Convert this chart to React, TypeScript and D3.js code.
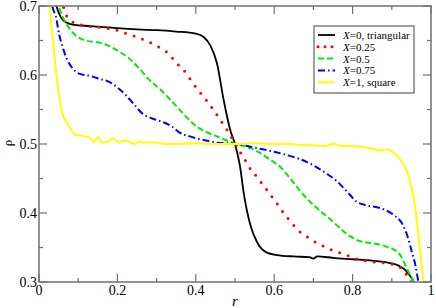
import React from "react";
import * as d3 from "d3";

const W = 436;
const H = 308;

const xTickLabels = ["0", "0.2", "0.4", "0.6", "0.8", "1"];
const yTickLabels = ["0.3", "0.4", "0.5", "0.6", "0.7"];

const seriesNames = ["X=0, triangular", "X=0.25", "X=0.5", "X=0.75", "X=1, square"];

const rBlack = [0.040, 0.045, 0.052, 0.060, 0.070, 0.085, 0.10, 0.13, 0.15, 0.18, 0.20, 0.25, 0.30, 0.35, 0.40, 0.42, 0.437, 0.454, 0.471, 0.488, 0.50, 0.513, 0.522, 0.539, 0.556, 0.58, 0.607, 0.65, 0.69, 0.70, 0.71, 0.75, 0.80, 0.85, 0.90, 0.92, 0.935, 0.945, 0.956, 0.962];
const rhoBlack = [0.72, 0.70, 0.688, 0.680, 0.676, 0.673, 0.672, 0.671, 0.670, 0.669, 0.668, 0.666, 0.665, 0.663, 0.660, 0.655, 0.643, 0.617, 0.564, 0.520, 0.500, 0.467, 0.430, 0.383, 0.358, 0.343, 0.339, 0.337, 0.336, 0.334, 0.337, 0.335, 0.333, 0.331, 0.327, 0.323, 0.317, 0.310, 0.300, 0.29];

const rRed = [0.055, 0.062, 0.070, 0.088, 0.111, 0.134, 0.157, 0.181, 0.204, 0.227, 0.250, 0.272, 0.294, 0.316, 0.334, 0.349, 0.366, 0.381, 0.394, 0.409, 0.425, 0.438, 0.453, 0.466, 0.479, 0.492, 0.505, 0.516, 0.529, 0.541, 0.557, 0.571, 0.586, 0.600, 0.614, 0.628, 0.643, 0.659, 0.678, 0.698, 0.718, 0.740, 0.763, 0.785, 0.807, 0.832, 0.855, 0.879, 0.900, 0.922, 0.934, 0.943, 0.950, 0.956];
const rhoRed = [0.71, 0.699, 0.686, 0.676, 0.672, 0.670, 0.669, 0.667, 0.664, 0.659, 0.655, 0.650, 0.644, 0.637, 0.629, 0.618, 0.609, 0.598, 0.587, 0.576, 0.565, 0.555, 0.543, 0.532, 0.521, 0.509, 0.497, 0.485, 0.474, 0.462, 0.452, 0.441, 0.430, 0.419, 0.408, 0.397, 0.387, 0.376, 0.368, 0.360, 0.354, 0.348, 0.343, 0.339, 0.334, 0.331, 0.329, 0.328, 0.326, 0.321, 0.313, 0.306, 0.299, 0.29];

const rGreen = [0.047, 0.051, 0.064, 0.077, 0.094, 0.119, 0.153, 0.179, 0.204, 0.230, 0.255, 0.281, 0.306, 0.332, 0.360, 0.381, 0.403, 0.428, 0.454, 0.479, 0.505, 0.539, 0.564, 0.590, 0.615, 0.641, 0.666, 0.692, 0.717, 0.743, 0.764, 0.794, 0.820, 0.853, 0.888, 0.913, 0.925, 0.934, 0.947, 0.956, 0.960];
const rhoGreen = [0.71, 0.70, 0.680, 0.668, 0.657, 0.650, 0.647, 0.642, 0.634, 0.624, 0.610, 0.593, 0.581, 0.566, 0.549, 0.536, 0.525, 0.517, 0.511, 0.505, 0.500, 0.494, 0.487, 0.477, 0.467, 0.450, 0.432, 0.416, 0.403, 0.391, 0.380, 0.366, 0.359, 0.356, 0.351, 0.344, 0.336, 0.325, 0.310, 0.300, 0.29];

const rBlue = [0.031, 0.034, 0.043, 0.051, 0.060, 0.072, 0.085, 0.102, 0.128, 0.157, 0.179, 0.200, 0.221, 0.243, 0.264, 0.289, 0.315, 0.340, 0.360, 0.385, 0.419, 0.454, 0.505, 0.556, 0.590, 0.632, 0.666, 0.700, 0.734, 0.760, 0.786, 0.811, 0.837, 0.871, 0.905, 0.926, 0.939, 0.951, 0.960, 0.968, 0.972];
const rhoBlue = [0.72, 0.70, 0.685, 0.660, 0.641, 0.622, 0.610, 0.602, 0.599, 0.594, 0.590, 0.582, 0.571, 0.557, 0.544, 0.537, 0.532, 0.525, 0.516, 0.511, 0.506, 0.502, 0.500, 0.494, 0.490, 0.484, 0.478, 0.469, 0.457, 0.446, 0.431, 0.416, 0.411, 0.407, 0.397, 0.385, 0.368, 0.344, 0.325, 0.300, 0.29];

const rYellow = [0.026, 0.028, 0.033, 0.038, 0.047, 0.060, 0.072, 0.085, 0.094, 0.111, 0.131, 0.140, 0.151, 0.160, 0.177, 0.190, 0.203, 0.216, 0.229, 0.242, 0.255, 0.272, 0.298, 0.324, 0.349, 0.40, 0.45, 0.50, 0.55, 0.60, 0.64, 0.666, 0.709, 0.730, 0.751, 0.770, 0.794, 0.837, 0.871, 0.888, 0.905, 0.922, 0.939, 0.951, 0.960, 0.968, 0.977, 0.981, 0.983];
const rhoYellow = [0.72, 0.70, 0.665, 0.636, 0.588, 0.544, 0.530, 0.518, 0.513, 0.512, 0.508, 0.503, 0.510, 0.502, 0.504, 0.508, 0.502, 0.505, 0.504, 0.500, 0.503, 0.502, 0.502, 0.500, 0.500, 0.501, 0.500, 0.500, 0.501, 0.500, 0.500, 0.499, 0.498, 0.497, 0.500, 0.497, 0.497, 0.495, 0.491, 0.492, 0.487, 0.477, 0.460, 0.436, 0.407, 0.368, 0.320, 0.300, 0.29];

const colors = ["#000000", "#ff0000", "#00ee00", "#0000ff", "#ffff00"];
const dashes = ["none", "0 9", "6 3", "7 3 1.5 3", "none"];
const widths = [1.8, 3, 2, 2, 2];

const seriesR = [rBlack, rRed, rGreen, rBlue, rYellow];
const seriesRho = [rhoBlack, rhoRed, rhoGreen, rhoBlue, rhoYellow];

const FONT = "'Liberation Serif', 'Times New Roman', serif";

export default function App() {
  const left = 39, right = 431, top = 6, bottom = 282;
  const x = d3.scaleLinear().domain([0, 1]).range([left, right]);
  const y = d3.scaleLinear().domain([0.3, 0.7]).range([bottom, top]);
  const line = d3
    .line<[number, number]>()
    .x((d) => x(d[0]))
    .y((d) => y(d[1]))
    .curve(d3.curveMonotoneX);

  const axisColor = "#707070";
  const xMajor = x.ticks(5);
  const xMinor = x.ticks(10).filter((t) => !xMajor.some((m) => Math.abs(m - t) < 1e-9));
  const yMajor = y.ticks(4);
  const yMinor = y.ticks(8).filter((t) => !yMajor.some((m) => Math.abs(m - t) < 1e-9));
  const ts = { fontFamily: FONT };

  const legX = 314, legY = 26, legW = 100, legH = 67;
  const rowY = (i: number) => 35 + i * 11.8;

  return (
    <svg
      width={W}
      height={H}
      style={{ position: "absolute", left: 0, top: 0, background: "#fff" }}
    >
      <defs>
        <clipPath id="plot">
          <rect x={left} y={top} width={right - left} height={bottom - top} />
        </clipPath>
      </defs>
      <rect x={0} y={0} width={W} height={H} fill="#fff" />
      <g clipPath="url(#plot)">
        {seriesR.map((rs, i) => (
          <path
            key={i}
            d={line(rs.map((r, j) => [r, seriesRho[i][j]] as [number, number])) || ""}
            fill="none"
            stroke={colors[i]}
            strokeWidth={widths[i]}
            strokeDasharray={dashes[i]}
            strokeLinecap={i === 1 ? "round" : "butt"}
            strokeLinejoin="round"
          />
        ))}
      </g>
      <rect x={left} y={top} width={right - left} height={bottom - top} fill="none" stroke={axisColor} strokeWidth={1.5} />
      {xMajor.map((t) => (
        <g key={"xM" + t}>
          <line x1={x(t)} x2={x(t)} y1={bottom} y2={bottom - 8} stroke={axisColor} strokeWidth={1.2} />
          <line x1={x(t)} x2={x(t)} y1={top} y2={top + 8} stroke={axisColor} strokeWidth={1.2} />
        </g>
      ))}
      {xMinor.map((t) => (
        <g key={"xm" + t}>
          <line x1={x(t)} x2={x(t)} y1={bottom} y2={bottom - 4} stroke={axisColor} strokeWidth={1.2} />
          <line x1={x(t)} x2={x(t)} y1={top} y2={top + 4} stroke={axisColor} strokeWidth={1.2} />
        </g>
      ))}
      {yMajor.map((t) => (
        <g key={"yM" + t}>
          <line x1={left} x2={left + 8} y1={y(t)} y2={y(t)} stroke={axisColor} strokeWidth={1.2} />
          <line x1={right} x2={right - 8} y1={y(t)} y2={y(t)} stroke={axisColor} strokeWidth={1.2} />
        </g>
      ))}
      {yMinor.map((t) => (
        <g key={"ym" + t}>
          <line x1={left} x2={left + 4} y1={y(t)} y2={y(t)} stroke={axisColor} strokeWidth={1.2} />
          <line x1={right} x2={right - 4} y1={y(t)} y2={y(t)} stroke={axisColor} strokeWidth={1.2} />
        </g>
      ))}
      {xMajor.map((t, i) => (
        <text key={"xl" + t} x={x(t)} y={295} fontSize={14} textAnchor="middle" fill="#000" style={ts}>
          {xTickLabels[i]}
        </text>
      ))}
      {yMajor.map((t, i) => (
        <text key={"yl" + t} x={left - 2} y={y(t) + 5} fontSize={14} textAnchor="end" fill="#000" style={ts}>
          {yTickLabels[i]}
        </text>
      ))}
      <text x={235} y={306} fontSize={15} fontStyle="italic" textAnchor="middle" fill="#000" style={ts}>
        r
      </text>
      <text transform="translate(12,143) rotate(-90)" fontSize={13} textAnchor="middle" fill="#000" style={ts}>
        ρ
      </text>
      <rect x={legX} y={legY} width={legW} height={legH} fill="#fff" stroke="#606060" strokeWidth={1.2} />
      {seriesNames.map((name, i) => {
        const parts = name.split("=");
        return (
          <g key={"lg" + i}>
            <line
              x1={318}
              x2={335}
              y1={rowY(i)}
              y2={rowY(i)}
              stroke={colors[i]}
              strokeWidth={widths[i]}
              strokeDasharray={i === 1 ? "0 7" : dashes[i]}
              strokeLinecap={i === 1 ? "round" : "butt"}
            />
            <text x={343} y={rowY(i) + 4} fontSize={11} fill="#000" style={ts}>
              <tspan fontStyle="italic">{parts[0]}</tspan>
              <tspan>{"=" + parts[1]}</tspan>
            </text>
          </g>
        );
      })}
    </svg>
  );
}
